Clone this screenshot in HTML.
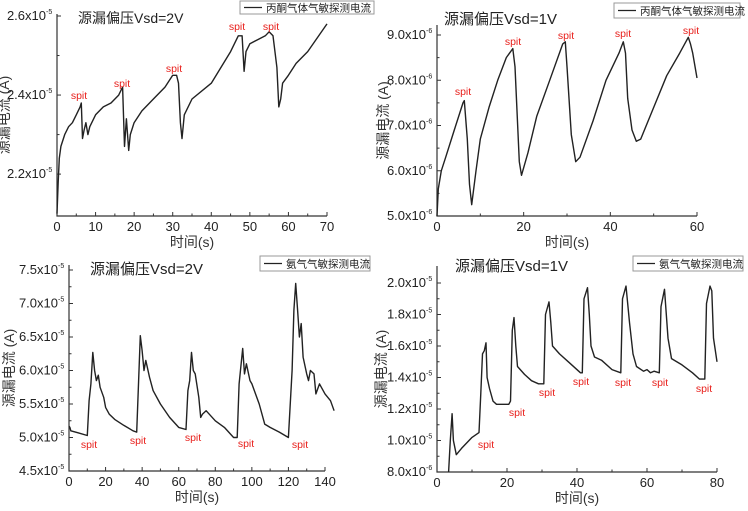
<!DOCTYPE html>
<html><head><meta charset="utf-8"><style>
html,body{margin:0;padding:0;background:#fff}
svg text{font-family:"Liberation Sans","Noto Sans CJK SC",sans-serif}
</style></head><body>
<svg id="fig" width="748" height="506" viewBox="0 0 748 506" xmlns="http://www.w3.org/2000/svg"></svg>
<script>
// Panel A: acetone, Vsd=2V (values x1e-5 A)
const aX=[0,0.3,0.6,1,2,3,4,5,6,6.3,6.6,7,7.5,8,8.5,10,12,14,16,17,17.5,18,18.6,19,20,22,25,28,30,31,31.5,32,32.4,33,35,40,45,47,48,48.5,49,50,52,54,55,56,57,57.5,58,58.5,60,62,65,70];
const aY=[2.10,2.18,2.24,2.27,2.30,2.32,2.33,2.35,2.37,2.38,2.29,2.31,2.33,2.30,2.32,2.35,2.37,2.38,2.40,2.42,2.27,2.34,2.26,2.30,2.33,2.36,2.39,2.42,2.45,2.45,2.43,2.33,2.29,2.35,2.39,2.43,2.51,2.55,2.55,2.46,2.51,2.53,2.54,2.55,2.56,2.55,2.47,2.37,2.39,2.43,2.45,2.48,2.51,2.58];
const aXT=[0,10,20,30,40,50,60,70];
const aYT=[2.2,2.4,2.6];
const aYL=["2.2x10","2.4x10","2.6x10"];
// Panel B: acetone, Vsd=1V (x1e-6 A)
const bX=[0,0.3,1,2,4,6,6.3,7,7.5,8,9,10,12,14,16,17.5,18,19,19.5,21,23,26,29,29.6,30,31,32,33,36,39,42,43,43.5,44,45,46,47,50,53,56,58,58.5,59,60];
const bY=[5.0,5.6,6.0,6.3,6.9,7.5,7.55,6.7,5.7,5.25,6.0,6.7,7.4,8.0,8.5,8.7,8.3,6.2,5.9,6.4,7.2,8.0,8.8,8.85,8.3,6.8,6.2,6.3,7.1,8.0,8.6,8.85,8.6,7.6,6.9,6.65,6.7,7.4,8.1,8.6,8.95,8.8,8.6,8.05];
const bXT=[0,20,40,60];
const bYT=[5,6,7,8,9];
const bYL=["5.0x10","6.0x10","7.0x10","8.0x10","9.0x10"];
// Panel C: ammonia, Vsd=2V (x1e-5 A)
const cX=[0,0.5,1,5,10,11,12,13,14,15,16,17,19,20,22,25,30,35,37,38,39,40,41,42,44,46,50,55,60,64,65,66,67,68,69,71,72,73,75,80,85,90,92,93,95,96,97,99,100,104,107,110,115,120,122,123,124,125,126,127,128,130,131,132,134,135,137,140,143,145];
const cY=[5.17,5.15,5.10,5.07,5.03,5.55,5.8,6.27,6.0,5.85,5.93,5.75,5.6,5.45,5.35,5.27,5.18,5.1,5.08,5.8,6.52,6.3,6.0,6.15,5.9,5.7,5.5,5.3,5.15,5.12,5.7,5.85,6.27,6.0,5.95,5.6,5.3,5.35,5.4,5.25,5.15,5.0,5.0,5.8,6.33,5.95,6.1,5.85,5.8,5.5,5.2,5.15,5.08,5.0,6.0,6.9,7.3,6.9,6.5,6.7,6.2,5.95,5.85,6.0,5.95,5.65,5.8,5.65,5.55,5.4];
const cXT=[0,20,40,60,80,100,120,140];
const cYT=[4.5,5.0,5.5,6.0,6.5,7.0,7.5];
const cYL=["4.5x10","5.0x10","5.5x10","6.0x10","6.5x10","7.0x10","7.5x10"];
// Panel D: ammonia, Vsd=1V (x1e-5 A)
const dX=[3.3,3.8,4.3,4.7,5.5,7,10,12,12.5,13,13.5,14,14.3,15,16,17,20.5,21,21.5,22,22.5,23,25,27,29,30.5,31,32,32.5,33,35,38,41,41.5,42,43,43.5,44,45,47,50,52.5,53,54,55,56,57,59,60,61,62,63.5,64,65,66,67,70,73,75,76.5,77,78,78.5,79,80];
const dY=[0.8,1.0,1.17,1.0,0.91,0.95,1.02,1.05,1.3,1.55,1.57,1.62,1.4,1.33,1.25,1.23,1.23,1.25,1.7,1.78,1.6,1.47,1.42,1.38,1.36,1.36,1.8,1.88,1.75,1.6,1.55,1.49,1.43,1.43,1.9,1.97,1.8,1.6,1.53,1.51,1.45,1.43,1.9,1.98,1.75,1.55,1.47,1.44,1.45,1.43,1.44,1.43,1.85,1.96,1.65,1.52,1.48,1.43,1.39,1.39,1.87,1.98,1.95,1.65,1.5];
const dXT=[0,20,40,60,80];
const dYT=[0.8,1.0,1.2,1.4,1.6,1.8,2.0];
const dYL=["8.0x10","1.0x10","1.2x10","1.4x10","1.6x10","1.8x10","2.0x10"];
const dExp=["-6","-5","-5","-5","-5","-5","-5"];

const NS="http://www.w3.org/2000/svg";
const svg=document.getElementById('fig');
function el(tag,attrs,parent,text){const e=document.createElementNS(NS,tag);for(const k in attrs)e.setAttribute(k,attrs[k]);if(text!==undefined)e.textContent=text;(parent||svg).appendChild(e);return e;}

function panel(cfg){
  const g=el('g',{});
  
  
  const sx=v=>cfg.x0+(v-cfg.xmin)/(cfg.xmax-cfg.xmin)*(cfg.x1-cfg.x0);
  const sy=v=>cfg.y0-(v-cfg.ymin)/(cfg.ymax-cfg.ymin)*(cfg.y0-cfg.y1);
  const ax=el('path',{d:`M${cfg.x0},${cfg.ytop}V${cfg.y0}H${cfg.x1}`,fill:'none',stroke:'#333','stroke-width':1.2},g);
  
  
  cfg.xt.forEach((t,i)=>{
    el('line',{x1:sx(t),x2:sx(t),y1:cfg.y0,y2:cfg.y0-4,stroke:'#333'},g);
    if(i<cfg.xt.length-1){const m=(t+cfg.xt[i+1])/2;el('line',{x1:sx(m),x2:sx(m),y1:cfg.y0,y2:cfg.y0-2.5,stroke:'#333'},g);}
    const tl=el('text',{x:sx(t),y:cfg.y0+15,'font-size':13,'text-anchor':'middle',fill:'#222'},g,String(t));
    
    
  });
  cfg.yt.forEach((t,i)=>{
    el('line',{x1:cfg.x0,x2:cfg.x0+4,y1:sy(t),y2:sy(t),stroke:'#333'},g);
    if(i<cfg.yt.length-1){const m=(t+cfg.yt[i+1])/2;el('line',{x1:cfg.x0,x2:cfg.x0+2.5,y1:sy(m),y2:sy(m),stroke:'#333'},g);}
    const tl=el('text',{x:cfg.x0-11,y:sy(t)+4,'font-size':13,'text-anchor':'end',fill:'#222'},g,cfg.yl[i]);
    
    
    el('text',{x:cfg.x0-11,y:sy(t)-2,'font-size':7,fill:'#222'},g,cfg.ye?cfg.ye[i]:cfg.exp);
  });
  let d='';
  cfg.xs.forEach((v,i)=>{d+=(i?'L':'M')+sx(v).toFixed(1)+','+sy(cfg.ys[i]).toFixed(1);});
  const ln=el('path',{d:d,fill:'none',stroke:'#222','stroke-width':1.4,'stroke-linejoin':'round'},g);
  
  
  const xl=el('text',{x:(cfg.x0+cfg.x1)/2,y:cfg.y0+31,'font-size':14,'text-anchor':'middle',fill:'#333'},g,'时间(s)');
  
  
  const ycx=cfg.ylx, ycy=(cfg.y0+cfg.ytop)/2;
  const yl=el('text',{x:ycx,y:ycy,'font-size':14,'text-anchor':'middle',fill:'#333',transform:`rotate(-90 ${ycx} ${ycy})`},g,'源漏电流 (A)');
  
  
  const ti=el('text',{x:cfg.tx,y:cfg.ty,'font-size':cfg.tfs,fill:'#222'},g,cfg.title);
  
  
  const lg=el('g',{},g);
  
  
  el('rect',{x:cfg.lx,y:cfg.ly,width:cfg.lw,height:cfg.lh,fill:'#fff',stroke:'#999'},lg);
  el('line',{x1:cfg.lx+4,x2:cfg.lx+22,y1:cfg.ly+cfg.lh/2,y2:cfg.ly+cfg.lh/2,stroke:'#222','stroke-width':1.3},lg);
  el('text',{x:cfg.lx+26,y:cfg.ly+cfg.lh/2+4,'font-size':10.5,fill:'#222','font-family':'"Noto Serif CJK SC",serif'},lg,cfg.legend);
  cfg.spits.forEach(p=>{
    const s=el('text',{x:p[0],y:p[1]+4,'font-size':10.5,'text-anchor':'middle',fill:'#e8201c'},g,'spit');
    
    
  });
}

panel({name:'acetone-2v-chart',x0:57,x1:327,xmin:0,xmax:70,y0:216,y1:16,ymin:2.094,ymax:2.6,ytop:14,
  xs:aX,ys:aY,xt:aXT,yt:aYT,yl:aYL,exp:'-5',ylx:9,title:'源漏偏压Vsd=2V',tx:78,ty:23,tfs:14,
  lx:240,ly:1,lw:134,lh:13,legend:'丙酮气体气敏探测电流',
  spits:[[79,95],[122,83],[174,68],[237,26],[271,26]]});
panel({name:'acetone-1v-chart',x0:437,x1:697,xmin:0,xmax:60,y0:216,y1:35,ymin:5,ymax:9,ytop:25,
  xs:bX,ys:bY,xt:bXT,yt:bYT,yl:bYL,exp:'-6',ylx:388,title:'源漏偏压Vsd=1V',tx:444,ty:24,tfs:15,
  lx:614,ly:3,lw:126,lh:15,legend:'丙酮气体气敏探测电流',
  spits:[[463,91],[513,41],[566,35],[623,33],[691,30]]});
panel({name:'ammonia-2v-chart',x0:69,x1:325,xmin:0,xmax:140,y0:471,y1:270,ymin:4.5,ymax:7.5,ytop:265,
  xs:cX,ys:cY,xt:cXT,yt:cYT,yl:cYL,exp:'-5',ylx:14,title:'源漏偏压Vsd=2V',tx:90,ty:274,tfs:15,
  lx:260,ly:256,lw:110,lh:15,legend:'氨气气敏探测电流',
  spits:[[89,444],[138,440],[193,437],[246,443],[300,444]]});
panel({name:'ammonia-1v-chart',x0:437,x1:717,xmin:0,xmax:80,y0:472,y1:283,ymin:0.8,ymax:2.0,ytop:266,
  xs:dX,ys:dY,xt:dXT,yt:dYT,yl:dYL,ye:dExp,ylx:386,title:'源漏偏压Vsd=1V',tx:455,ty:271,tfs:15,
  lx:633,ly:256,lw:110,lh:15,legend:'氨气气敏探测电流',
  spits:[[486,444],[517,412],[547,392],[581,381],[623,382],[660,382],[704,388]]});
</script>
</body></html>
